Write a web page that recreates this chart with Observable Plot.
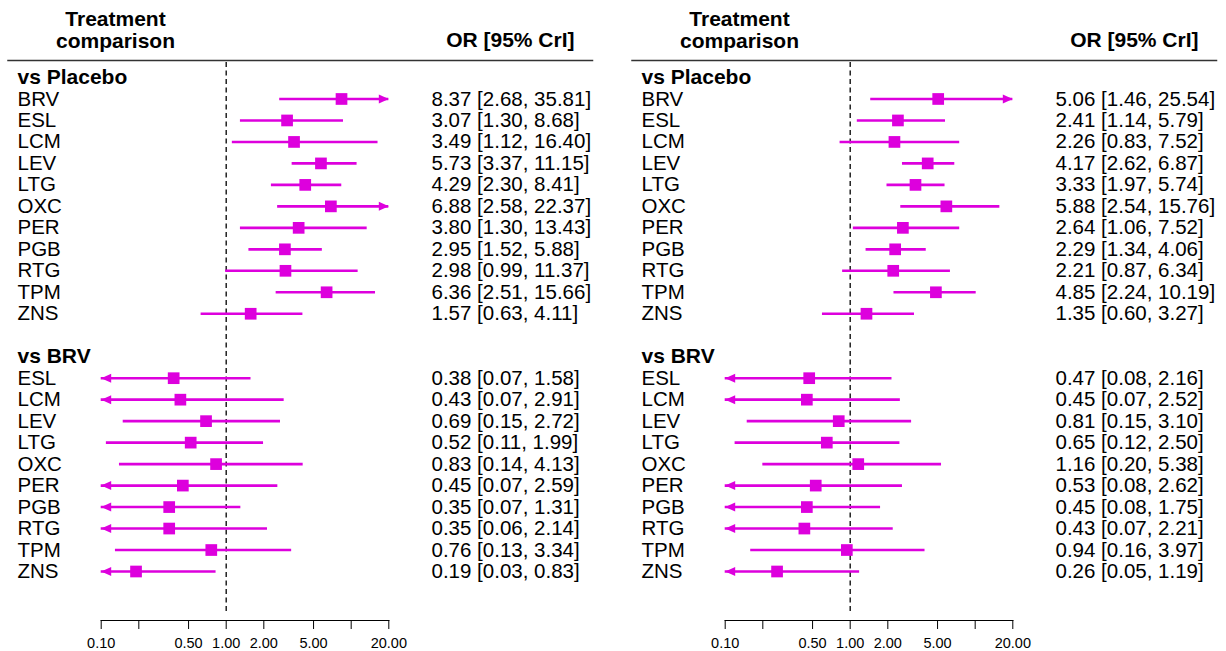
<!DOCTYPE html>
<html><head><meta charset="utf-8">
<script src="https://cdn.jsdelivr.net/npm/d3@7"></script>
<script src="https://cdn.jsdelivr.net/npm/@observablehq/plot@0.6"></script>
<style>
body{margin:0;background:#fff;font-family:"Liberation Sans",Arial,sans-serif;}
#wrap{display:flex;width:1226px;height:651px;}
#wrap svg{display:block;}
</style></head><body><div id="wrap"></div>
<script>
// ---- data ----
const groupLabels = ["vs Placebo", "vs BRV"];
const placeboTreatments = ["BRV","ESL","LCM","LEV","LTG","OXC","PER","PGB","RTG","TPM","ZNS"];
const brvTreatments = ["ESL","LCM","LEV","LTG","OXC","PER","PGB","RTG","TPM","ZNS"];

// left panel
const leftPlaceboOR = [8.37,3.07,3.49,5.73,4.29,6.88,3.80,2.95,2.98,6.36,1.57];
const leftPlaceboLo = [2.68,1.30,1.12,3.37,2.30,2.58,1.30,1.52,0.99,2.51,0.63];
const leftPlaceboHi = [35.81,8.68,16.40,11.15,8.41,22.37,13.43,5.88,11.37,15.66,4.11];
const leftBrvOR = [0.38,0.43,0.69,0.52,0.83,0.45,0.35,0.35,0.76,0.19];
const leftBrvLo = [0.07,0.07,0.15,0.11,0.14,0.07,0.07,0.06,0.13,0.03];
const leftBrvHi = [1.58,2.91,2.72,1.99,4.13,2.59,1.31,2.14,3.34,0.83];

// right panel
const rightPlaceboOR = [5.06,2.41,2.26,4.17,3.33,5.88,2.64,2.29,2.21,4.85,1.35];
const rightPlaceboLo = [1.46,1.14,0.83,2.62,1.97,2.54,1.06,1.34,0.87,2.24,0.60];
const rightPlaceboHi = [25.54,5.79,7.52,6.87,5.74,15.76,7.52,4.06,6.34,10.19,3.27];
const rightBrvOR = [0.47,0.45,0.81,0.65,1.16,0.53,0.45,0.43,0.94,0.26];
const rightBrvLo = [0.08,0.07,0.15,0.12,0.20,0.08,0.08,0.07,0.16,0.05];
const rightBrvHi = [2.16,2.52,3.10,2.50,5.38,2.62,1.75,2.21,3.97,1.19];

const xDomain = [0.1, 20];
const tickValues = [0.1, 0.2, 0.5, 1, 2, 5, 10, 20];
const tickLabels = ["0.10", "", "0.50", "1.00", "2.00", "5.00", "", "20.00"];
const headerLeft = "Treatment\ncomparison";
const headerRight = "OR [95% CrI]";

// ---- drawing ----
const MAG = "#dd00dd";
const fmt = v => v.toFixed(2);
const tickRows = tickValues.map((v, i) => ({v, label: tickLabels[i]})).filter(d => d.label);

const arrowRight = {draw(ctx) { ctx.moveTo(0, 0); ctx.lineTo(-10, -4.5); ctx.lineTo(-10, 4.5); ctx.closePath(); }};
const arrowLeft = {draw(ctx) { ctx.moveTo(0, 0); ctx.lineTo(10, -4.5); ctx.lineTo(10, 4.5); ctx.closePath(); }};

function buildRows(pOR, pLo, pHi, bOR, bLo, bHi) {
  const rows = [];
  let r = 0;
  rows.push({row: r++, label: groupLabels[0], group: true});
  placeboTreatments.forEach((t, i) => rows.push({row: r++, label: t, or: pOR[i], lo: pLo[i], hi: pHi[i]}));
  r++;
  rows.push({row: r++, label: groupLabels[1], group: true});
  brvTreatments.forEach((t, i) => rows.push({row: r++, label: t, or: bOR[i], lo: bLo[i], hi: bHi[i]}));
  return rows;
}

function panel(width, rows) {
  const mL = 100.7, xEnd = 388.3;
  const mR = width - xEnd;
  const items = rows.filter(d => !d.group);
  const groups = rows.filter(d => d.group);
  const clamp = v => Math.max(xDomain[0], Math.min(xDomain[1], v));
  const tickSize = 9;
  return Plot.plot({
    width, height: 651,
    marginLeft: mL, marginRight: mR, marginTop: 60, marginBottom: 31,
    style: {fontFamily: '"Liberation Sans", Arial, sans-serif', fontSize: "14px", background: "white", color: "#000", overflow: "visible"},
    x: {type: "log", domain: xDomain},
    y: {type: "linear", domain: d3.extent(rows, d => d.row), range: [77, 571], axis: null},
    marks: [
      Plot.frame({anchor: "top", stroke: "#333", strokeWidth: 1.5, insetLeft: -(mL - 7.5), insetRight: -(592 - xEnd)}),
      Plot.frame({anchor: "bottom", stroke: "#000", strokeWidth: 1.2}),
      Plot.ruleX([1], {stroke: "#000", strokeWidth: 1.3, strokeDasharray: "5,3.5", insetTop: 2, insetBottom: 6}),
      Plot.ruleY(items, {y: "row", x1: d => clamp(d.lo), x2: d => clamp(d.hi), stroke: MAG, strokeWidth: 2.6}),
      Plot.dot(items.filter(d => d.hi > xDomain[1]), {x: () => xDomain[1], y: "row", symbol: arrowRight, fill: MAG, stroke: "none"}),
      Plot.dot(items.filter(d => d.lo < xDomain[0]), {x: () => xDomain[0], y: "row", symbol: arrowLeft, fill: MAG, stroke: "none"}),
      Plot.dot(items, {x: "or", y: "row", symbol: "square", r: 6.6, fill: MAG, stroke: "none"}),
      Plot.text(items, {y: "row", text: "label", frameAnchor: "left", dx: 17 - mL, textAnchor: "start", fontSize: 20.5}),
      Plot.text(groups, {y: "row", text: "label", frameAnchor: "left", dx: 17 - mL, textAnchor: "start", fontSize: 21, fontWeight: "bold"}),
      Plot.text(items, {y: "row", text: d => `${fmt(d.or)} [${fmt(d.lo)}, ${fmt(d.hi)}]`, frameAnchor: "right", dx: 431 - xEnd, textAnchor: "start", fontSize: 20.5}),
      Plot.text([headerLeft], {text: d => d, frameAnchor: "top-left", dx: 115 - mL, dy: 29 - 60, textAnchor: "middle", lineAnchor: "middle", lineHeight: 1.05, fontSize: 21, fontWeight: "bold"}),
      Plot.text([headerRight], {text: d => d, frameAnchor: "top-right", dx: 574 - xEnd, dy: 40 - 60, textAnchor: "end", lineAnchor: "middle", fontSize: 21, fontWeight: "bold"}),
      Plot.axisX({ticks: tickValues, tickFormat: () => "", tickSize, label: null, anchor: "bottom", stroke: "#000"}),
      Plot.text(tickRows, {x: "v", text: "label", frameAnchor: "bottom", dy: tickSize + 14, lineAnchor: "middle", textAnchor: "middle", fontSize: 14.5})
    ]
  });
}

const wrap = document.getElementById("wrap");
wrap.append(panel(624, buildRows(leftPlaceboOR, leftPlaceboLo, leftPlaceboHi, leftBrvOR, leftBrvLo, leftBrvHi)));
wrap.append(panel(602, buildRows(rightPlaceboOR, rightPlaceboLo, rightPlaceboHi, rightBrvOR, rightBrvLo, rightBrvHi)));
</script>
</body></html>
